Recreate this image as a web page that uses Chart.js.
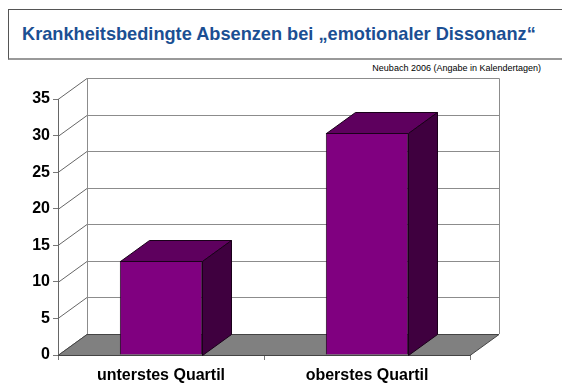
<!DOCTYPE html>
<html>
<head>
<meta charset="utf-8">
<script src="https://cdn.jsdelivr.net/npm/chart.js@4"></script>
<style>
  body { margin: 0; background: #fff; font-family: "Liberation Sans", Arial, sans-serif; }
  #wrap { position: relative; width: 562px; height: 383px; overflow: hidden; }
  #titleBox {
    position: absolute; left: 8px; top: 9px; width: 580px; height: 48px;
    border-left: 1px solid #555; border-top: 1px solid #555; border-bottom: 2px solid #999;
  }
  #title {
    position: absolute; left: 22px; top: 24px;
    font-weight: bold; font-size: 18.2px; color: #1b4f93; white-space: nowrap;
  }
  #source {
    position: absolute; right: 21px; top: 63px;
    font-size: 9px; color: #000; white-space: nowrap;
  }
  canvas { position: absolute; left: 0; top: 0; }
</style>
</head>
<body>
<div id="wrap">
  <div id="titleBox"></div>
  <div id="title">Krankheitsbedingte Absenzen bei „emotionaler Dissonanz“</div>
  <div id="source">Neubach 2006 (Angabe in Kalendertagen)</div>
  <canvas id="absenzen-chart" width="562" height="383"></canvas>
</div>
<script>
// chart data
const categories = ['unterstes Quartil', 'oberstes Quartil'];
const absenceDays = [12.9, 30.4];
const yTicks = [0, 5, 10, 15, 20, 25, 30, 35];

// 3d depth of walls and bars (pixels)
const DX = 29;
const DY = 21;

const wallPlugin = {
  id: 'wall3d',
  beforeDatasetsDraw(chart) {
    const ctx = chart.ctx;
    const y = chart.scales.y;
    const area = chart.chartArea;
    const top = y.getPixelForValue(yTicks[yTicks.length - 1]);
    const bottom = y.getPixelForValue(0);
    ctx.save();
    ctx.lineWidth = 1;

    // back wall
    ctx.fillStyle = '#fff';
    ctx.strokeStyle = '#8c8c8c';
    ctx.fillRect(area.left + DX, top - DY, area.right - area.left, bottom - top);
    ctx.beginPath();
    ctx.moveTo(area.left + DX + 0.5, bottom - DY);
    ctx.lineTo(area.left + DX + 0.5, top - DY + 0.5);
    ctx.lineTo(area.right + DX + 0.5, top - DY + 0.5);
    ctx.lineTo(area.right + DX + 0.5, bottom - DY);
    ctx.stroke();

    // grid lines on back wall and left side wall
    yTicks.forEach(v => {
      const py = Math.round(y.getPixelForValue(v)) + 0.5;
      ctx.strokeStyle = '#8c8c8c';
      ctx.beginPath();
      ctx.moveTo(area.left + DX, py - DY);
      ctx.lineTo(area.right + DX, py - DY);
      ctx.stroke();
      ctx.strokeStyle = '#666';
      ctx.beginPath();
      ctx.moveTo(area.left, py);
      ctx.lineTo(area.left + DX, py - DY);
      ctx.stroke();
    });

    // floor
    ctx.fillStyle = '#808080';
    ctx.strokeStyle = '#444';
    ctx.beginPath();
    ctx.moveTo(area.left, bottom + 0.5);
    ctx.lineTo(area.right, bottom + 0.5);
    ctx.lineTo(area.right + DX, bottom - DY + 0.5);
    ctx.lineTo(area.left + DX, bottom - DY + 0.5);
    ctx.closePath();
    ctx.fill();
    ctx.stroke();
    ctx.restore();
  },
  afterDatasetsDraw(chart) {
    // top and side faces of the bars
    const ctx = chart.ctx;
    ctx.save();
    ctx.lineWidth = 1;
    ctx.strokeStyle = '#1a001a';
    chart.getDatasetMeta(0).data.forEach(bar => {
      const p = bar.getProps(['x', 'y', 'base', 'width'], true);
      const l = Math.round(p.x - p.width / 2) + 0.5;
      const r = Math.round(p.x + p.width / 2) + 0.5;
      const t = Math.round(p.y) + 0.5;
      const b = Math.round(p.base) + 0.5;
      ctx.fillStyle = '#5e005e';
      ctx.beginPath();
      ctx.moveTo(l, t);
      ctx.lineTo(l + DX, t - DY);
      ctx.lineTo(r + DX, t - DY);
      ctx.lineTo(r, t);
      ctx.closePath();
      ctx.fill();
      ctx.stroke();
      ctx.fillStyle = '#3f003f';
      ctx.beginPath();
      ctx.moveTo(r, t);
      ctx.lineTo(r + DX, t - DY);
      ctx.lineTo(r + DX, b - DY);
      ctx.lineTo(r, b);
      ctx.closePath();
      ctx.fill();
      ctx.stroke();
    });
    ctx.restore();
  }
};

Chart.defaults.font.family = '"Liberation Sans", Arial, sans-serif';

new Chart(document.getElementById('absenzen-chart'), {
  type: 'bar',
  data: {
    labels: categories,
    datasets: [{
      label: 'Absenztage',
      data: absenceDays,
      backgroundColor: '#800080',
      borderColor: '#1a001a',
      borderWidth: 1,
      categoryPercentage: 1,
      barPercentage: 0.4
    }]
  },
  options: {
    responsive: false,
    animation: false,
    layout: { padding: { top: 99, right: 92, left: 0, bottom: 0 } },
    plugins: { legend: { display: false }, tooltip: { enabled: false } },
    scales: {
      x: {
        afterFit(scale) { scale.height = 28; },
        grid: { drawOnChartArea: false, drawTicks: true, tickLength: 5, color: '#777', offset: true },
        border: { color: '#555' },
        ticks: { color: '#000', padding: 6, font: { size: 16, weight: 'bold' } }
      },
      y: {
        min: 0,
        max: 35,
        afterFit(scale) { scale.width = 58; },
        afterBuildTicks(scale) { scale.ticks = yTicks.map(v => ({ value: v })); },
        grid: { drawOnChartArea: false, drawTicks: true, tickLength: 5, color: '#777' },
        border: { color: '#666' },
        ticks: { color: '#000', padding: 3, font: { size: 16, weight: 'bold' } }
      }
    }
  },
  plugins: [wallPlugin]
});
</script>
</body>
</html>
